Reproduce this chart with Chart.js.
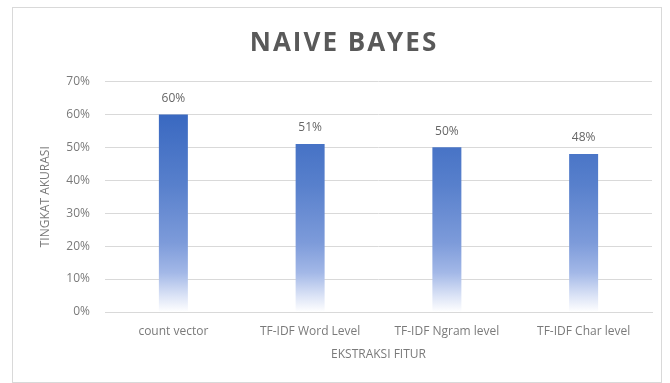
<!DOCTYPE html>
<html>
<head>
<meta charset="utf-8">
<script src="https://cdn.jsdelivr.net/npm/chart.js@4.4.1/dist/chart.umd.min.js"></script>
<style>
  html, body { margin: 0; padding: 0; background: #fff; }
  .frame {
    position: absolute; left: 12px; top: 7px;
    width: 650px; height: 376px;
    border: 1px solid #d9d9d9; box-sizing: border-box;
  }
  .frame canvas { display: block; }
</style>
</head>
<body>
<div class="frame"><canvas id="nb"></canvas></div>
<script>
// Accuracy per feature extraction method (percent)
const categories = ['count vector', 'TF-IDF Word Level', 'TF-IDF Ngram level', 'TF-IDF Char level'];
const accuracy = [60, 51, 50, 48];
const yTicks = [0, 10, 20, 30, 40, 50, 60, 70];
const chartTitle = 'NAIVE BAYES';

const FONT = "'Open Sans', 'Noto Sans', sans-serif";
const GRID = '#d9d9d9';

// Vertical fade of the bars, anchored to the plot area
function barFill(c) {
  const area = c.chart.chartArea;
  if (!area) return '#4472c4';
  const g = c.chart.ctx.createLinearGradient(0, area.top, 0, area.bottom);
  g.addColorStop(0, '#2f5fb8');
  g.addColorStop(0.15, '#3a69c1');
  g.addColorStop(0.45, '#5880cc');
  g.addColorStop(0.7, '#7d9bda');
  g.addColorStop(0.83, '#a3b8e7');
  g.addColorStop(0.93, '#dbe3f6');
  g.addColorStop(1, '#ffffff');
  return g;
}

// Spaced-out heading drawn on the canvas (built-in title can't letter-space)
const heading = {
  id: 'heading',
  beforeDraw(chart) {
    const ctx = chart.ctx;
    ctx.save();
    ctx.font = 'bold 26px ' + FONT;
    ctx.letterSpacing = '2px';
    ctx.fillStyle = '#595959';
    ctx.textAlign = 'center';
    ctx.textBaseline = 'alphabetic';
    ctx.fillText(chartTitle, chart.width / 2 + 7, 43);
    ctx.restore();
  }
};

// Value labels above each bar
const valueLabels = {
  id: 'valueLabels',
  afterDatasetsDraw(chart) {
    const ctx = chart.ctx;
    const meta = chart.getDatasetMeta(0);
    ctx.save();
    ctx.font = '12px ' + FONT;
    ctx.fillStyle = '#666666';
    ctx.textAlign = 'center';
    ctx.textBaseline = 'middle';
    meta.data.forEach((bar, i) => {
      ctx.fillText(accuracy[i] + '%', bar.x, bar.y - 16);
    });
    ctx.restore();
  }
};

new Chart(document.getElementById('nb'), {
  type: 'bar',
  data: {
    labels: categories,
    datasets: [{
      data: accuracy,
      backgroundColor: barFill,
      borderWidth: 0,
      categoryPercentage: 1,
      barPercentage: 0.212
    }]
  },
  options: {
    responsive: true,
    maintainAspectRatio: false,
    animation: false,
    layout: { padding: { left: 0, right: 9, top: 73.5, bottom: 0 } },
    plugins: {
      legend: { display: false },
      tooltip: { enabled: false },
      title: { display: false }
    },
    scales: {
      x: {
        grid: { display: false, drawTicks: false },
        border: { color: GRID },
        ticks: { color: '#7a7a7a', font: { family: FONT, size: 12 }, padding: 12, maxRotation: 0 },
        title: {
          display: true, text: 'EKSTRAKSI FITUR', color: '#7a7a7a',
          font: { family: FONT, size: 12 }, padding: { top: 0, bottom: 20 }
        },
        afterFit(s) { s.height = 70; }
      },
      y: {
        min: 0, max: 70,
        afterBuildTicks(s) { s.ticks = yTicks.map(v => ({ value: v })); },
        grid: { color: GRID, drawTicks: false },
        border: { display: false },
        ticks: {
          color: '#7a7a7a', font: { family: FONT, size: 12 }, padding: 15,
          callback: v => v + '%'
        },
        title: {
          display: true, text: 'TINGKAT AKURASI', color: '#7a7a7a',
          font: { family: FONT, size: 12 }, padding: { top: 25, bottom: 0 }
        },
        afterFit(s) { s.width = 92; }
      }
    }
  },
  plugins: [heading, valueLabels]
});
</script>
</body>
</html>
